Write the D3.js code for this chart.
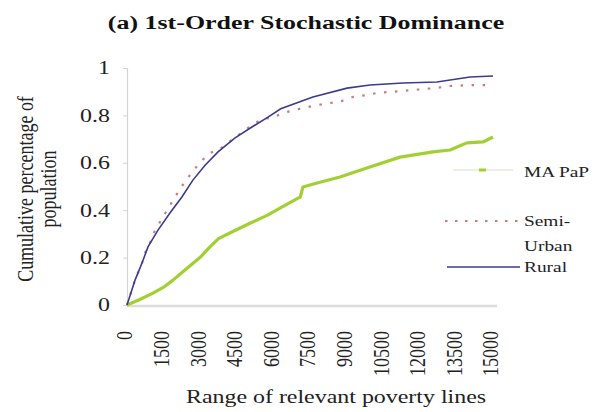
<!DOCTYPE html>
<html><head><meta charset="utf-8">
<script src="https://cdn.jsdelivr.net/npm/d3@7"></script>
<style>html,body{margin:0;padding:0;background:#fff}svg{display:block}text{font-family:"Liberation Serif","Times New Roman",serif}</style>
</head><body>
<script>
const titleText = "(a) 1st-Order Stochastic Dominance";
const xTickValues = [0,1500,3000,4500,6000,7500,9000,10500,12000,13500,15000];
const yTickValues = [0,0.2,0.4,0.6,0.8,1];
const xAxisTitle = "Range of relevant poverty lines";
const yAxisTitle = ["Cumulative percentage of","population"];

const greenX = [0,500,1066,1500,1885,2400,2990,3400,3750,4340,5040,5740,6270,7010,7100,7210,7790,8730,9830,11190,12540,13240,13600,13930,14590,15000];
const greenY = [0,0.022,0.05,0.075,0.105,0.15,0.2,0.245,0.28,0.31,0.345,0.378,0.409,0.451,0.455,0.498,0.515,0.54,0.578,0.624,0.646,0.654,0.67,0.684,0.688,0.709];

const semiX = [0,330,615,740,940,1070,1350,1640,1970,2250,2580,3000,3400,3800,4400,5000,5530,5940,6390,6880,7380,7830,8320,8810,9260,9840,10250,10780,11720,12700,13240,14180,15000];
const semiY = [0,0.105,0.177,0.22,0.26,0.30,0.35,0.40,0.456,0.502,0.548,0.603,0.641,0.658,0.705,0.75,0.785,0.79,0.81,0.823,0.835,0.844,0.852,0.861,0.878,0.886,0.895,0.899,0.907,0.916,0.924,0.928,0.928];

const ruralX = [0,330,615,860,1270,1760,2250,2700,3200,3730,4430,5120,5780,6300,7620,9020,9960,11310,12700,14060,15000];
const ruralY = [0,0.105,0.177,0.245,0.316,0.388,0.456,0.527,0.59,0.646,0.705,0.751,0.793,0.828,0.878,0.915,0.928,0.937,0.941,0.962,0.966];

const legendLabels = [["MA PaP"],["Semi-","Urban"],["Rural"]];

const W=594,H=412, SX=1.33;
const svg=d3.select("body").append("svg").attr("width",W).attr("height",H);
svg.append("rect").attr("width",W).attr("height",H).attr("fill","#fff");

const x=d3.scaleLinear().domain([0,15000]).range([127,493]);
const y=d3.scaleLinear().domain([0,1]).range([305,68]);

function hText(g,px,py,str,size,anchor,weight,sx){
  return g.append("text").attr("transform",`translate(${px},${py}) scale(${sx||SX},1)`)
    .attr("text-anchor",anchor||"start").attr("font-size",size).attr("font-weight",weight||"normal")
    .attr("fill","#1a1a1a").text(str);
}

// title
hText(svg,306,29,titleText,19.5,"middle","bold").attr("fill","#111");

// y axis
const yAxis=svg.append("g").attr("transform","translate(127,0)")
  .call(d3.axisLeft(y).tickValues(yTickValues).tickSize(4).tickFormat(d=>d===0?"0":d===1?"1":d3.format(".1f")(d)));
yAxis.select(".domain").attr("stroke","#d4d4d4").attr("stroke-width",1.2);
yAxis.selectAll(".tick line").attr("stroke","#d4d4d4");
yAxis.selectAll(".tick text").attr("font-size",18).attr("fill","#222")
  .style("font-family","'Liberation Serif',serif")
  .attr("x",null).attr("dy","0.33em").attr("text-anchor","end")
  .attr("transform",`translate(-17,0) scale(${SX},1)`);

// x axis
const xAxis=svg.append("g").attr("transform","translate(0,306)")
  .call(d3.axisBottom(x).tickValues(xTickValues).tickSize(0).tickFormat(d3.format("d")));
xAxis.select(".domain").attr("stroke","#dcdcdc").attr("stroke-width",2.5).attr("d","M127,0H497");
xAxis.selectAll(".tick text").attr("font-size",18).attr("fill","#222")
  .style("font-family","'Liberation Serif',serif")
  .attr("text-anchor","end").attr("x",0).attr("y",0).attr("dy","0.33em")
  .attr("transform",`translate(-3,25) scale(${SX},1) rotate(-90)`);

// axis titles
hText(svg,336,403,xAxisTitle,18,"middle").attr("fill","#222");
yAxisTitle.forEach((t,i)=>{
  svg.append("text").attr("transform",`translate(${33+i*23},189) scale(${SX},1) rotate(-90)`).attr("text-anchor","middle")
    .attr("font-size",18).attr("fill","#222").text(t);
});

const line=d3.line().x(d=>x(d[0])).y(d=>y(d[1]));
const greenData=greenX.map((v,i)=>[v,greenY[i]]);
const semiData=semiX.map((v,i)=>[v,semiY[i]]);
const ruralData=ruralX.map((v,i)=>[v,ruralY[i]]);

const greenColor="#a2d032", semiColor="#cc7a80", ruralColor="#3d3b8e";

svg.append("path").datum(greenData).attr("d",line).attr("fill","none").attr("stroke",greenColor).attr("stroke-width",3.2).attr("stroke-linejoin","round");
svg.append("path").datum(semiData).attr("d",line).attr("fill","none").attr("stroke",semiColor).attr("stroke-width",2.2).attr("stroke-dasharray","2.5,8.5");
svg.append("path").datum(ruralData).attr("d",line).attr("fill","none").attr("stroke",ruralColor).attr("stroke-width",1.6);

// legend
const lg=svg.append("g");
lg.append("line").attr("x1",453).attr("x2",513).attr("y1",170).attr("y2",170).attr("stroke","#e4ecd8").attr("stroke-width",1.5);
lg.append("line").attr("x1",479).attr("x2",486).attr("y1",170).attr("y2",170).attr("stroke",greenColor).attr("stroke-width",3);
lg.append("line").attr("x1",445).attr("x2",524).attr("y1",221).attr("y2",221).attr("stroke",semiColor).attr("stroke-width",2.2).attr("stroke-dasharray","2.5,7.5");
lg.append("line").attr("x1",447).attr("x2",520).attr("y1",267).attr("y2",267).attr("stroke",ruralColor).attr("stroke-width",1.6);
const legY=[[172],[221,246],[267]];
legendLabels.forEach((lines,i)=>{
  lines.forEach((t,j)=>{
    hText(lg,524,legY[i][j],t,15.5,"start","normal",1.25).attr("dy","0.33em").attr("fill","#222");
  });
});
</script>
</body></html>
